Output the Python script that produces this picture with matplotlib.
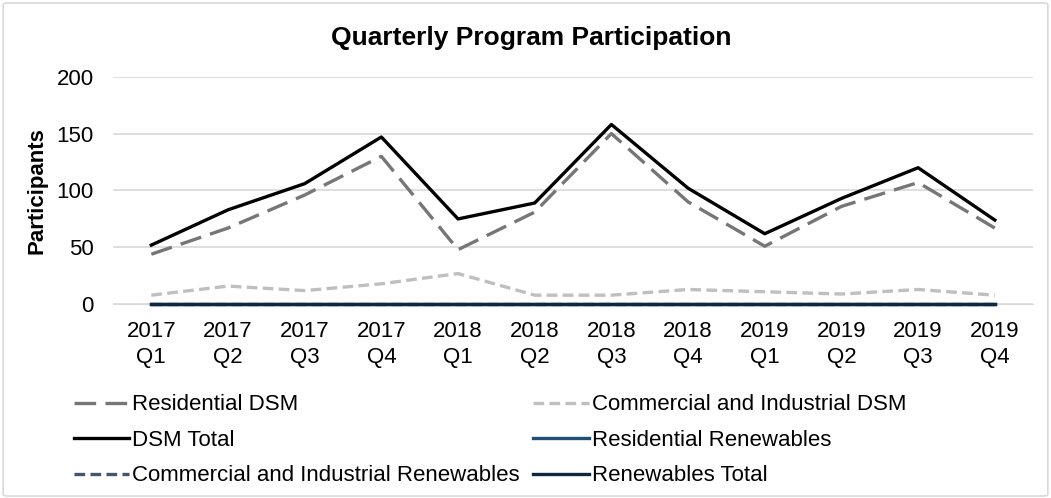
import matplotlib.pyplot as plt
from matplotlib.patches import FancyBboxPatch

plt.rcParams['font.family'] = ['Liberation Sans', 'DejaVu Sans']

quarters = ['2017\nQ1', '2017\nQ2', '2017\nQ3', '2017\nQ4',
            '2018\nQ1', '2018\nQ2', '2018\nQ3', '2018\nQ4',
            '2019\nQ1', '2019\nQ2', '2019\nQ3', '2019\nQ4']
residential_dsm = [44, 67, 96, 130, 48, 81, 150, 90, 51, 86, 107, 67]
ci_dsm = [8, 16, 12, 18, 27, 8, 8, 13, 11, 9, 13, 8]
dsm_total = [52, 83, 106, 147, 75, 89, 158, 102, 62, 93, 120, 74]
residential_renew = [0] * 12
ci_renew = [0] * 12
renew_total = [0] * 12

fig = plt.figure(figsize=(10.51, 4.98), dpi=100)
fig.patches.append(FancyBboxPatch((0.003, 0.004), 0.994, 0.99, boxstyle='round,pad=0,rounding_size=0.004',
                                  transform=fig.transFigure, facecolor='none',
                                  edgecolor='#D9D9D9', linewidth=1.2))
ax = fig.add_axes([0.1075, 0.389, 0.8755, 0.457])

x = list(range(len(quarters)))
lw = 2.4
h1, = ax.plot(x, residential_dsm, color='#767676', lw=lw, dashes=(6.5, 2.8), label='Residential DSM', zorder=3)
h2, = ax.plot(x, ci_dsm, color='#BFBFBF', lw=lw, dashes=(3.2, 1.6), label='Commercial and Industrial DSM', zorder=3)
h3, = ax.plot(x, dsm_total, color='#000000', lw=lw, label='DSM Total', zorder=4)
h4, = ax.plot(x, residential_renew, color='#1F4E79', lw=lw, label='Residential Renewables', zorder=3, clip_on=False)
h5, = ax.plot(x, ci_renew, color='#44546A', lw=lw, dashes=(3.2, 1.6), label='Commercial and Industrial Renewables', zorder=3, clip_on=False)
h6, = ax.plot(x, renew_total, color='#0E2841', lw=lw, label='Renewables Total', zorder=4, clip_on=False)

ax.set_xlim(-0.5, len(quarters) - 0.5)
ax.set_ylim(0, 200)
ax.set_yticks([0, 50, 100, 150, 200])
ax.set_xticks(x)
ax.set_xticklabels(quarters, linespacing=1.3)
ax.tick_params(axis='both', length=0, labelsize=16, colors='#000000')
ax.tick_params(axis='x', pad=12)
ax.tick_params(axis='y', pad=14)
ax.grid(axis='y', color='#D9D9D9', lw=1.2)
ax.set_axisbelow(True)
for s in ['top', 'right', 'left']:
    ax.spines[s].set_visible(False)
ax.spines['bottom'].set_color('#D9D9D9')

ax.set_ylabel('Participants', fontsize=16, fontweight='bold', labelpad=6)
fig.text(0.505, 0.923, 'Quarterly Program Participation', ha='center', va='center',
         fontsize=19, fontweight='bold')

# row-wise order like the original legend
handles = [h1, h3, h5, h2, h4, h6]
fig.legend(handles=handles, labels=[h.get_label() for h in handles],
           loc='upper left', bbox_to_anchor=(0.07, 0.208), ncol=2, frameon=False,
           fontsize=16, handlelength=2.5, handletextpad=0.15, columnspacing=0.6,
           labelspacing=0.65, borderpad=0, borderaxespad=0)

fig.savefig('out.png', dpi=100)
